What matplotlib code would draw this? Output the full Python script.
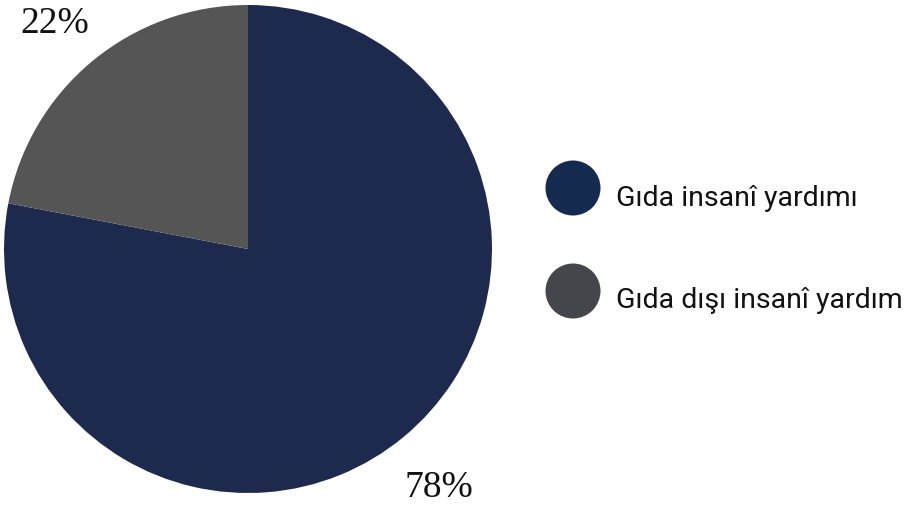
import matplotlib
matplotlib.use("Agg")
import matplotlib.pyplot as plt
from matplotlib.patches import Circle

categories = ["Gıda insanî yardımı", "Gıda dışı insanî yardım"]
values = [78, 22]
pct_labels = ["78%", "22%"]
pie_colors = ["#1d2a4d", "#555555"]
legend_colors = ["#142a4f", "#43464a"]

W, H = 914, 508
fig = plt.figure(figsize=(W / 100, H / 100), dpi=100)
fig.patch.set_facecolor("white")

cx, cy, r = 248, 249, 244
ax = fig.add_axes([(cx - r) / W, (H - cy - r) / H, 2 * r / W, 2 * r / H])
ax.pie(values, colors=pie_colors, startangle=90, counterclock=False,
       wedgeprops=dict(linewidth=0))
ax.set_aspect("equal")
ax.set_xlim(-1, 1)
ax.set_ylim(-1, 1)

# percentage labels (pixel positions of text centres)
label_pos = {"78%": (439, 488), "22%": (55, 24)}
for lab in pct_labels:
    x, y = label_pos[lab]
    fig.text(x / W, (H - y) / H, lab, ha="center", va="center",
             fontsize=27, family="Liberation Serif", color="#111111")

# legend
lax = fig.add_axes([0, 0, 1, 1])
lax.set_xlim(0, W)
lax.set_ylim(H, 0)
lax.axis("off")
leg_y = [188, 291]
for name, col, y in zip(categories, legend_colors, leg_y):
    lax.add_patch(Circle((573, y), 27.5, color=col, lw=0))
    lax.text(616, y + 10, name, ha="left", va="center", fontsize=20.5,
             family="Roboto", weight="normal", color="#111111")

fig.savefig("out.png", dpi=100, facecolor="white")
